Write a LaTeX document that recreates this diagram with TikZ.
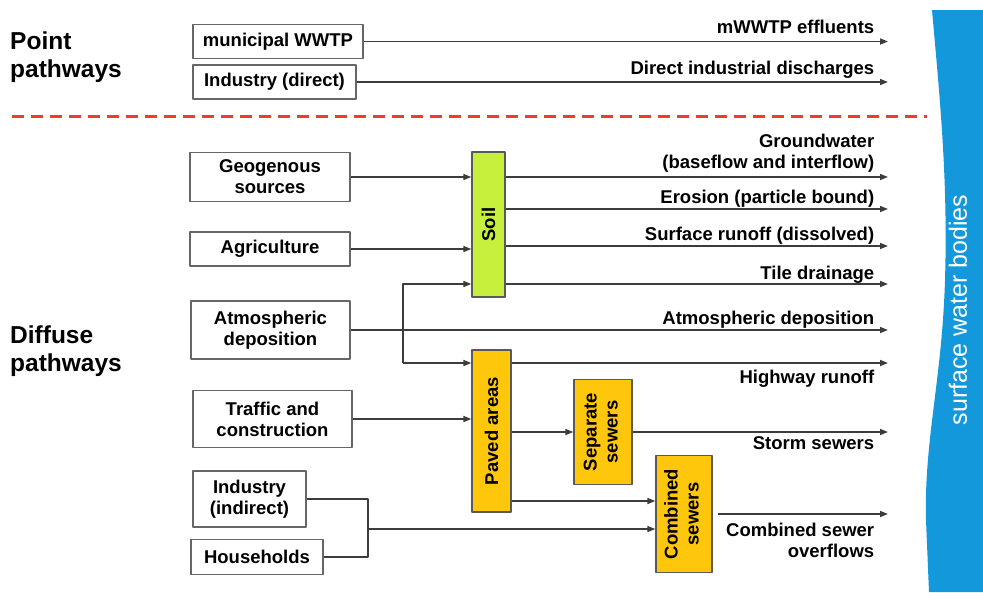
\documentclass[tikz,border=0pt]{standalone}
\usepackage{fontspec}
\setmainfont{Liberation Sans}
\usepackage{graphicx}
\usetikzlibrary{arrows.meta}
\definecolor{soilgreen}{RGB}{198,240,60}
\definecolor{pavedgold}{RGB}{255,199,12}
\definecolor{waterblue}{RGB}{20,152,220}
\definecolor{dashred}{RGB}{236,62,40}
\definecolor{flowgray}{RGB}{60,60,60}
\begin{document}
\begin{tikzpicture}[x=1pt, y=-1pt, line join=round, font=\fontsize{18.5}{21}\selectfont\bfseries, >={Triangle[length=8pt,width=6pt]}]
	\def\xo{888}
	\tikzset{src/.style={draw=black!60, line width=1.3pt, fill=white, align=center, inner sep=0pt},
		sink/.style={draw=black!65, line width=1.3pt, inner sep=0pt},
		link/.style={draw=flowgray, line width=1.6pt},
		flow/.style={link, ->},
		lab/.style={anchor=base east, inner sep=0pt, align=right, xshift=-13pt},
		head/.style={anchor=west, align=left, inner sep=0pt, font=\fontsize{24.5}{28}\selectfont\bfseries}}
	\useasboundingbox (0,0) rectangle (983,592);
	% receiving water
	\fill[waterblue] (932,10) .. controls (940,100) and (948,180) .. (945,280) .. controls (942,380) and (924,440) .. (926,520) -- (929,592) -- (983,592) -- (983,10) -- cycle;
	\node[white, font=\fontsize{25}{28}\selectfont, rotate=90] (water) at (958,310) {surface water bodies};
	\node[head] (point) at (10,57.5) {Point\\pathways};
	\node[head] (diffuse) at (10,351.5) {Diffuse\\pathways};
	\draw[dashred, line width=3pt, dash pattern=on 12pt off 7pt] (12,116) -- (927,116);
	% sources
	\node[src, minimum width=170pt, minimum height=34pt] (mwwtp) at (278,41.5) {municipal WWTP};
	\node[src, minimum width=163pt, minimum height=34pt] (inddir) at (274.5,82) {Industry (direct)};
	\node[src, minimum width=160pt, minimum height=49pt] (geo) at (270,177) {Geogenous\\sources};
	\node[src, minimum width=160pt, minimum height=34pt] (agri) at (270,249) {Agriculture};
	\node[src, minimum width=159pt, minimum height=58pt] (atmo) at (270.5,330) {Atmospheric\\deposition};
	\node[src, minimum width=159pt, minimum height=57pt] (traffic) at (272.5,419) {Traffic and\\construction};
	\node[src, minimum width=113pt, minimum height=56pt] (indind) at (249.5,499) {Industry\\(indirect)};
	\node[src, minimum width=132pt, minimum height=35pt] (house) at (257,557) {Households};
	% compartments
	\node[sink, fill=soilgreen, minimum width=33pt, minimum height=145pt] (soil) at (488.5,224.5) {\rotatebox{90}{Soil}};
	\node[sink, fill=pavedgold, minimum width=39pt, minimum height=162pt] (paved) at (491.5,431) {\rotatebox{90}{Paved areas}};
	\node[sink, fill=pavedgold, minimum width=58pt, minimum height=105pt] (sep) at (603,432) {\rotatebox{90}{\begin{tabular}{@{}c@{}}Separate\\sewers\end{tabular}}};
	\node[sink, fill=pavedgold, minimum width=56pt, minimum height=117pt] (comb) at (684,514) {\rotatebox{90}{\begin{tabular}{@{}c@{}}Combined\\sewers\end{tabular}}};
	\foreach \n/\y in {ef/41.5, di/82, gw/177, er/209, sr/246, td/284, ad/330, hw/363, ss/432, co/514}
		\coordinate (\n) at (\xo,\y);
	\coordinate (br) at (403,284);
	\coordinate (jn) at (368,529);
	% pathways
	\draw[flow] (mwwtp.east) -- (ef) node[lab, yshift=8.5pt] {mWWTP effluents};
	\draw[flow] (inddir.east) -- (di) node[lab, yshift=8pt] {Direct industrial discharges};
	\draw[flow] (soil.east |- gw) -- (gw) node[lab, anchor=south east, yshift=4pt] {Groundwater\\(baseflow and interflow)};
	\draw[flow] (soil.east |- er) -- (er) node[lab, yshift=6pt] {Erosion (particle bound)};
	\draw[flow] (soil.east |- sr) -- (sr) node[lab, yshift=6pt] {Surface runoff (dissolved)};
	\draw[flow] (soil.east |- td) -- (td) node[lab, yshift=5pt] {Tile drainage};
	\draw[flow] (atmo.east) -- (ad) node[lab, yshift=6pt] {Atmospheric deposition};
	\draw[flow] (paved.east |- hw) -- (hw) node[lab, yshift=-20pt] {Highway runoff};
	\draw[flow] (sep.east) -- (ss) node[lab, yshift=-17pt] {Storm sewers};
	\draw[flow] ([xshift=5pt]comb.east) -- (co) node[lab, anchor=north east, yshift=-8pt] {Combined sewer\\overflows};
	\draw[flow] (geo.east) -- (geo.east -| soil.west);
	\draw[flow] (agri.east) -- (agri.east -| soil.west);
	\draw[flow] (br |- hw) -- (br) -- (soil.west |- td);
	\draw[flow] (br |- hw) -- (paved.west |- hw);
	\draw[flow] (traffic.east) -- (traffic.east -| paved.west);
	\draw[flow] (paved.east |- sep) -- (sep.west);
	\draw[flow] (paved.east |- 0,501) -- (comb.west |- 0,501);
	\draw[link] (indind.east) -| (jn);
	\draw[link] (house.east) -| (jn);
	\draw[flow] (jn) -- (jn -| comb.west);
\end{tikzpicture}
\end{document}
